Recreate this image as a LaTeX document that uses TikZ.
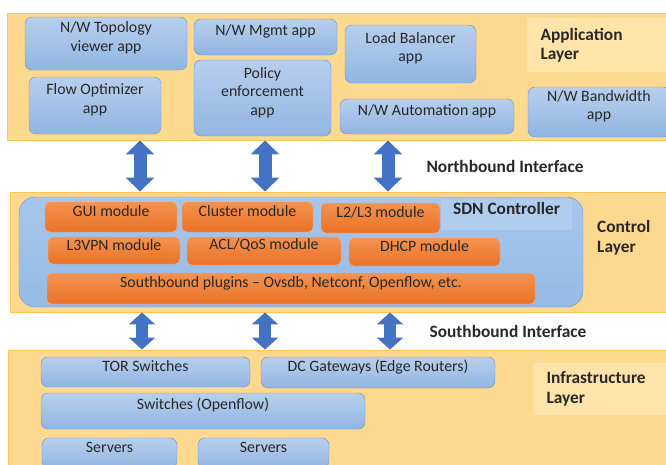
\documentclass[tikz,border=0pt]{standalone}
\usepackage{fontspec}
\setmainfont{Carlito}
\usetikzlibrary{fit,arrows.meta}
\definecolor{bandfill}{RGB}{253,216,143}
\definecolor{bandedge}{RGB}{250,198,86}
\definecolor{bandlite}{RGB}{255,228,170}
\definecolor{boxtop}{RGB}{184,207,237}
\definecolor{boxbot}{RGB}{145,181,226}
\definecolor{boxedge}{RGB}{112,150,204}
\definecolor{ctrltop}{RGB}{166,198,236}
\definecolor{ctrlbot}{RGB}{150,187,230}
\definecolor{ctrllite}{RGB}{176,205,238}
\definecolor{modtop}{RGB}{243,146,80}
\definecolor{modbot}{RGB}{235,114,38}
\definecolor{modedge}{RGB}{247,176,126}
\definecolor{arrblue}{RGB}{68,114,196}
\definecolor{txt}{RGB}{40,40,40}
\newcommand\boxfont{\fontsize{13.5}{15.8}\selectfont}
\newcommand\lblfont{\fontsize{14.8}{17}\selectfont\bfseries}
\tikzset{
  band/.style={draw=bandedge, fill=bandfill, line width=0.8pt, inner sep=0pt},
  appbox/.style={draw=boxedge, top color=boxtop, bottom color=boxbot, rounded corners=6pt,
    inner sep=0pt, align=center, text=txt, font=\boxfont, text depth=12.5pt},
  modbox/.style={draw=modedge, top color=modtop, bottom color=modbot, rounded corners=4pt,
    inner sep=0pt, align=center, text=txt, font=\boxfont, text depth=12.5pt},
  laylabel/.style={font=\lblfont, align=left, text=txt, inner sep=0pt},
  litebox/.style={laylabel, fill=bandlite, anchor=north west, inner xsep=0.4cm},
  nbarrow/.style={draw=arrblue, line width=0.39cm,
    {Triangle[width=0.84cm,length=0.42cm]}-{Triangle[width=0.84cm,length=0.42cm]}},
  sbarrow/.style={draw=arrblue, line width=0.36cm,
    {Triangle[width=0.78cm,length=0.36cm]}-{Triangle[width=0.78cm,length=0.36cm]}}
}
\begin{document}
\begin{tikzpicture}[x=0.03cm,y=-0.03cm]
\useasboundingbox (0,0) rectangle (666,464);
\node[band, fit={(7,13) (670,140)}] (appL) {};
\node[band, fit={(10,192) (670,312)}] (ctrlL) {};
\node[band, fit={(8,350) (670,475)}] (infraL) {};

\node[litebox, text width=3.37cm, minimum height=1.62cm] (applbl) at (527,18) {Application\\Layer};
\node[laylabel, anchor=west] (ctrllbl) at (597,238) {Control\\Layer};
\node[litebox, text width=3.19cm, minimum height=1.56cm] (infralbl) at (533,363) {Infrastructure\\Layer};
\node[laylabel] (nblbl) at (505,166) {Northbound Interface};
\node[laylabel] (sblbl) at (508,331) {Southbound Interface};

\node[appbox, fit={(25,17) (187,70)}] (topo) {N/W Topology\\viewer app};
\node[appbox, fit={(29,77) (161,134)}] (flowopt) {Flow Optimizer\\app};
\node[appbox, fit={(194,19) (337,55)}] (mgmt) {N/W Mgmt app};
\node[appbox, fit={(194,60) (331,136)}] (policy) {Policy\\enforcement\\app};
\node[appbox, fit={(345,25) (476,83)}] (lb) {Load Balancer\\app};
\node[appbox, fit={(340,99) (514,134)}] (auto) {N/W Automation app};
\node[appbox, fit={(528,87) (670,137)}] (bw) {N/W Bandwidth\\app};

\node[draw=boxedge, top color=ctrltop, bottom color=ctrlbot, rounded corners=14pt, inner sep=0pt,
  fit={(19,197) (583,307)}] (sdn) {};
\node[laylabel, fill=ctrllite, fit={(441,199) (572,230)}] (sdnlbl) {SDN Controller};

\node[modbox, fit={(45,202) (177,232)}] (gui) {GUI module};
\node[modbox, fit={(182,202) (313,232)}] (cluster) {Cluster module};
\node[modbox, fit={(321,203) (440,233)}] (l2l3) {L2/L3 module};
\node[modbox, fit={(48,237) (180,264)}] (l3vpn) {L3VPN module};
\node[modbox, fit={(187,237) (341,265)}] (acl) {ACL/QoS module};
\node[modbox, fit={(349,238) (500,266)}] (dhcp) {DHCP module};
\node[modbox, fit={(47,273) (535,304)}] (sbplug) {Southbound plugins -- Ovsdb, Netconf, Openflow, etc.};

\node[appbox, fit={(41,357) (250,387)}] (tor) {TOR Switches};
\node[appbox, fit={(261,357) (495,388)}] (dcgw) {DC Gateways (Edge Routers)};
\node[appbox, fit={(41,393) (365,429)}] (ofsw) {Switches (Openflow)};
\node[appbox, fit={(42,438) (177,468)}] (srv1) {Servers};
\node[appbox, fit={(198,438) (329,468)}] (srv2) {Servers};

\draw[nbarrow] (appL.south -| 140,0) -- (ctrlL.north -| 140,0);
\draw[nbarrow] (appL.south -| 265,0) -- (ctrlL.north -| 265,0);
\draw[nbarrow] (appL.south -| 388,0) -- (ctrlL.north -| 388,0);
\draw[sbarrow] (ctrlL.south -| 142,0) -- (infraL.north -| 142,0);
\draw[sbarrow] (ctrlL.south -| 265,0) -- (infraL.north -| 265,0);
\draw[sbarrow] (ctrlL.south -| 390,0) -- (infraL.north -| 390,0);
\end{tikzpicture}
\end{document}
